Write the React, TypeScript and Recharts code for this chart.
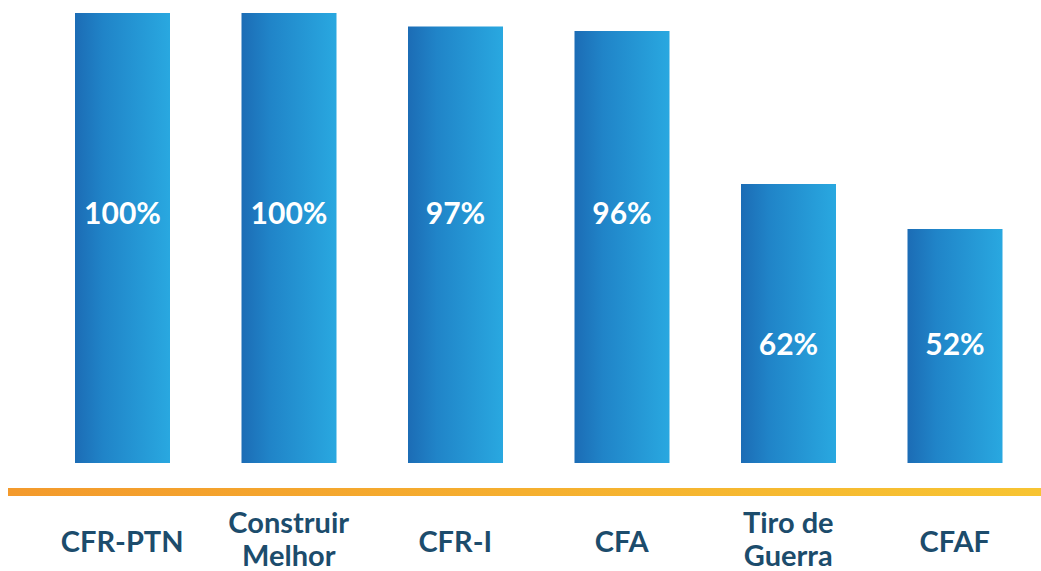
import { BarChart, Bar, XAxis, YAxis, LabelList } from 'recharts';

const categories = ['CFR-PTN', 'Construir\nMelhor', 'CFR-I', 'CFA', 'Tiro de\nGuerra', 'CFAF'];
const percentages = [100, 100, 97, 96, 62, 52];

const chartData = categories.map((name, i) => ({ name, value: percentages[i] }));

const FONT = 'Lato, "Open Sans", sans-serif';
const TEXT_BLUE = '#1c4c6c';

type TickProps = {
  x?: number;
  y?: number;
  payload?: { value: string };
};

function CategoryTick({ x = 0, payload }: TickProps) {
  const lines = (payload?.value ?? '').split('\n');
  const baselines = lines.length > 1 ? [533, 566] : [552];
  return (
    <g>
      {lines.map((line, i) => (
        <text
          key={i}
          x={x}
          y={baselines[i]}
          textAnchor="middle"
          fill={TEXT_BLUE}
          fontFamily={FONT}
          fontWeight={700}
          fontSize={29}
        >
          {line}
        </text>
      ))}
    </g>
  );
}

type LabelProps = {
  x?: number | string;
  y?: number | string;
  width?: number | string;
  height?: number | string;
  value?: number | string;
};

// tall bars share one label row, short ones sit lower
function PercentLabel({ x = 0, y = 0, width = 0, height = 0, value }: LabelProps) {
  const bottom = Number(y) + Number(height);
  const v = Number(value);
  const baseline = v >= 90 ? bottom - 239 : bottom - 108;
  return (
    <text
      x={Number(x) + Number(width) / 2}
      y={baseline}
      textAnchor="middle"
      fill="#ffffff"
      fontFamily={FONT}
      fontWeight={700}
      fontSize={30}
    >
      {v}%
    </text>
  );
}

export default function App() {
  return (
    <div style={{ position: 'absolute', left: 0, top: 0, background: '#fff' }}>
      <BarChart
        width={1041}
        height={571}
        data={chartData}
        margin={{ top: 13, right: 0, bottom: 0, left: 8 }}
      >
        <defs>
          <linearGradient id="barGrad" x1="0" y1="0" x2="1" y2="0">
            <stop offset="0%" stopColor="#1c6cb5" />
            <stop offset="30%" stopColor="#2084c8" />
            <stop offset="100%" stopColor="#29a8e0" />
          </linearGradient>
          <linearGradient id="orangeGrad" gradientUnits="userSpaceOnUse" x1="8" y1="0" x2="1041" y2="0">
            <stop offset="0%" stopColor="#f39a2c" />
            <stop offset="100%" stopColor="#f7c432" />
          </linearGradient>
        </defs>
        <YAxis hide domain={[-6.44, 100]} allowDataOverflow />
        <XAxis
          dataKey="name"
          interval={0}
          padding={{ left: 31, right: 3 }}
          axisLine={{ stroke: 'url(#orangeGrad)', strokeWidth: 8 }}
          tickLine={false}
          height={79}
          tick={<CategoryTick />}
        />
        <Bar dataKey="value" fill="url(#barGrad)" barSize={95} isAnimationActive={false}>
          <LabelList dataKey="value" content={<PercentLabel />} />
        </Bar>
      </BarChart>
    </div>
  );
}
